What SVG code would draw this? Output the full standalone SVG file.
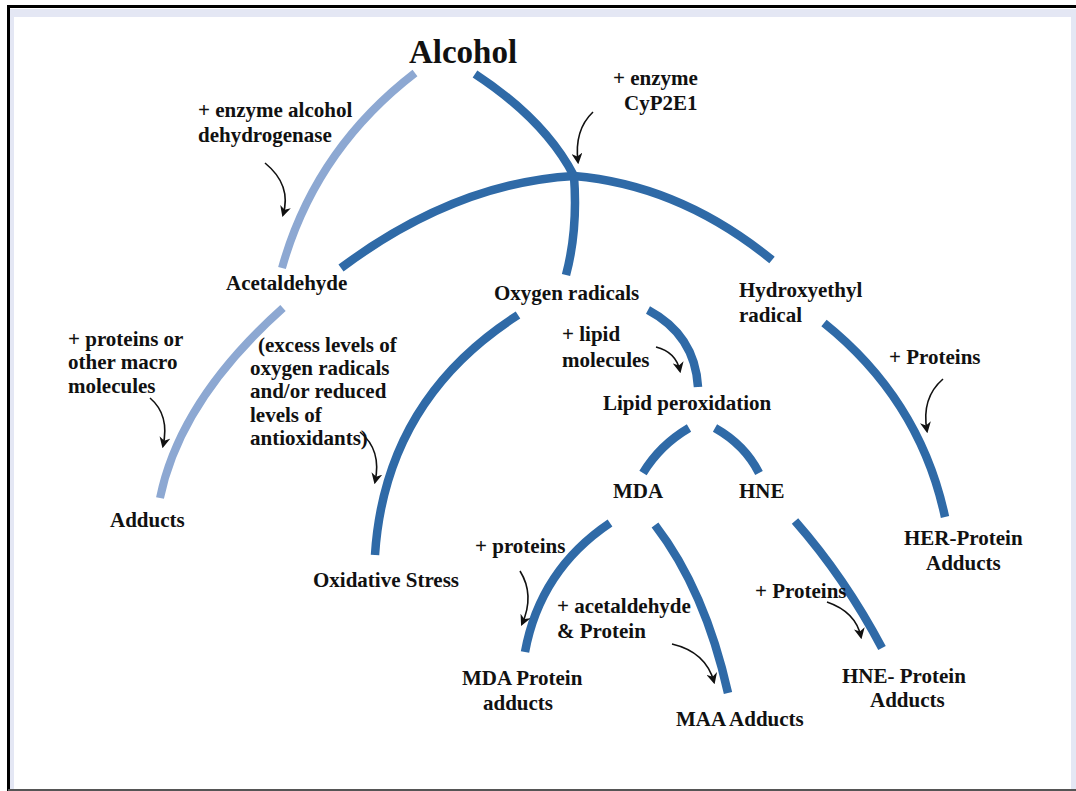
<svg xmlns="http://www.w3.org/2000/svg" width="1076" height="791" viewBox="0 0 1076 791">
<defs>
<style>
.t{font-family:"Liberation Serif","Times New Roman",serif;font-weight:bold;font-size:21px;fill:#111;}
.big{font-size:33px;}
.dk{fill:none;stroke:#2f6aa7;stroke-width:8.5;stroke-linecap:butt;}
.lt{fill:none;stroke:#8da8d2;stroke-width:8;stroke-linecap:butt;}
.ar{fill:none;stroke:#111;stroke-width:1.6;marker-end:url(#ah);}
</style>
<marker id="ah" viewBox="0 0 10 10" refX="8" refY="5" markerWidth="11" markerHeight="11" markerUnits="userSpaceOnUse" orient="auto">
<path d="M0,0 L10,5 L0,10 L3,5 Z" fill="#111"/>
</marker>
</defs>
<g id="frame">
<rect x="0" y="0" width="1076" height="791" fill="#ffffff"/>
<rect x="10" y="9" width="1066" height="780" fill="#e4e7f4"/>
<rect x="14" y="17" width="1057" height="772" fill="#ffffff"/>
<line x1="8" y1="6.5" x2="1076" y2="6.5" stroke="#000" stroke-width="3"/>
<line x1="8.5" y1="5" x2="8.5" y2="791" stroke="#000" stroke-width="3"/>
<line x1="8" y1="790" x2="1076" y2="790" stroke="#555" stroke-width="2"/>
</g>
<g id="connectors">
<path class="lt" d="M415,73 Q315,150 282,268"/>
<path class="dk" d="M475,74 Q545,120 574,176"/>
<path class="dk" d="M341,268 Q455,183 574,176 Q680,185 772,260"/>
<path class="dk" d="M574,176 Q578,230 566,275"/>
<path class="lt" d="M283,308 Q180,400 160,498"/>
<path class="dk" d="M518,315 Q385,400 375,555"/>
<path class="dk" d="M648,310 Q695,335 698,387"/>
<path class="dk" d="M689,428 Q660,445 643,473"/>
<path class="dk" d="M715,428 Q745,445 759,473"/>
<path class="dk" d="M824,323 Q920,400 945,517"/>
<path class="dk" d="M610,523 Q540,570 525,652"/>
<path class="dk" d="M655,525 Q705,590 728,693"/>
<path class="dk" d="M795,521 Q845,578 882,648"/>
<path class="ar" d="M265,163 Q292,185 283,215"/>
<path class="ar" d="M593,112 Q574,130 578,162"/>
<path class="ar" d="M150,398 Q170,415 163,446"/>
<path class="ar" d="M360,432 Q382,450 375,482"/>
<path class="ar" d="M656,347 Q676,352 680,371"/>
<path class="ar" d="M943,379 Q921,398 927,431"/>
<path class="ar" d="M520,571 Q535,595 522,624"/>
<path class="ar" d="M672,644 Q706,652 714,682"/>
<path class="ar" d="M827,602 Q856,612 861,637"/>
</g>
<g id="alcohol"><text class="t big" x="463" y="63" text-anchor="middle">Alcohol</text></g>
<g id="label-adh"><text class="t" x="198" y="117">+ enzyme alcohol</text><text class="t" x="198" y="142">dehydrogenase</text></g>
<g id="label-cyp"><text class="t" x="613" y="85">+ enzyme</text><text class="t" x="624" y="110">CyP2E1</text></g>
<g id="acetaldehyde"><text class="t" x="226" y="290">Acetaldehyde</text></g>
<g id="oxygen-radicals"><text class="t" x="494" y="300">Oxygen radicals</text></g>
<g id="hydroxyethyl"><text class="t" x="739" y="297">Hydroxyethyl</text><text class="t" x="739" y="322">radical</text></g>
<g id="label-macro"><text class="t" x="68" y="346">+ proteins or</text><text class="t" x="68" y="369">other macro</text><text class="t" x="68" y="393">molecules</text></g>
<g id="label-excess"><text class="t" x="258" y="352">(excess levels of</text><text class="t" x="250" y="375">oxygen radicals</text><text class="t" x="250" y="398">and/or reduced</text><text class="t" x="250" y="422">levels of</text><text class="t" x="250" y="445">antioxidants)</text></g>
<g id="adducts"><text class="t" x="110" y="527">Adducts</text></g>
<g id="oxidative-stress"><text class="t" x="313" y="587">Oxidative Stress</text></g>
<g id="label-lipid"><text class="t" x="562" y="341">+ lipid</text><text class="t" x="562" y="367">molecules</text></g>
<g id="lipid-peroxidation"><text class="t" x="603" y="410">Lipid peroxidation</text></g>
<g id="label-her-proteins"><text class="t" x="889" y="364">+ Proteins</text></g>
<g id="mda"><text class="t" x="613" y="498">MDA</text></g>
<g id="hne"><text class="t" x="739" y="498">HNE</text></g>
<g id="her-adducts"><text class="t" x="904" y="545">HER-Protein</text><text class="t" x="926" y="570">Adducts</text></g>
<g id="label-mda-proteins"><text class="t" x="475" y="553">+ proteins</text></g>
<g id="label-acetaldehyde-protein"><text class="t" x="557" y="613">+ acetaldehyde</text><text class="t" x="557" y="638">&amp; Protein</text></g>
<g id="label-hne-proteins"><text class="t" x="755" y="598">+ Proteins</text></g>
<g id="mda-adducts"><text class="t" x="462" y="685">MDA Protein</text><text class="t" x="483" y="710">adducts</text></g>
<g id="maa-adducts"><text class="t" x="676" y="726">MAA Adducts</text></g>
<g id="hne-adducts"><text class="t" x="842" y="683">HNE- Protein</text><text class="t" x="870" y="707">Adducts</text></g>
</svg>
